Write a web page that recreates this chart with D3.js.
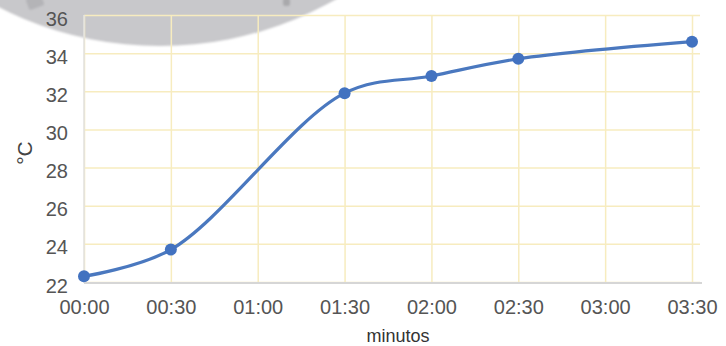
<!DOCTYPE html>
<html>
<head>
<meta charset="utf-8">
<script src="https://cdn.jsdelivr.net/npm/d3@7"></script>
<style>
  html, body { margin: 0; padding: 0; background: #ffffff; }
  svg { display: block; }
  text { font-family: "Liberation Sans", Arial, sans-serif; }
</style>
</head>
<body>
<svg id="chart" width="726" height="346"></svg>
<script>
// Elapsed time of each reading, in minutes
const sampleMinutes = [0, 30, 90, 120, 150, 210];
// Temperature readings (°C)
const temperatures = [22.3, 23.7, 31.9, 32.8, 33.7, 34.6];
// Axis ticks
const xTickMinutes = [0, 30, 60, 90, 120, 150, 180, 210];
const xTickLabels = ["00:00", "00:30", "01:00", "01:30", "02:00", "02:30", "03:00", "03:30"];
const yTicks = [22, 24, 26, 28, 30, 32, 34, 36];

const svg = d3.select("#chart");
const plotLeft = 84, plotRight = 692, plotTop = 15, plotBottom = 282;

const x = d3.scaleLinear().domain([0, 210]).range([plotLeft, plotRight]);
const y = d3.scaleLinear().domain([22, 36]).range([plotBottom, plotTop]);

// Grey disc partly covering the top of the chart
const defs = svg.append("defs");
defs.append("filter").attr("id", "soft")
  .attr("x", "-10%").attr("y", "-10%").attr("width", "120%").attr("height", "120%")
  .append("feGaussianBlur").attr("stdDeviation", 1.2);
const cover = svg.append("g").attr("filter", "url(#soft)");
cover.append("circle").attr("cx", 160).attr("cy", -309).attr("r", 355).attr("fill", "#c8c8cb");
cover.append("rect").attr("x", 27).attr("y", -4).attr("width", 16).attr("height", 12)
  .attr("rx", 2).attr("fill", "#b4b4b7").attr("transform", "rotate(-20 35 2)");
cover.append("rect").attr("x", 283).attr("y", -2).attr("width", 7).attr("height", 8)
  .attr("rx", 2).attr("fill", "#a9a9ac");

// Gridlines
const grid = svg.append("g");
grid.append("g")
  .attr("transform", `translate(0,${plotTop})`)
  .call(d3.axisBottom(x).tickValues(xTickMinutes).tickSize(plotBottom - plotTop).tickFormat(""))
  .call(g => g.select(".domain").remove())
  .call(g => g.selectAll("line").attr("stroke", "#f7ecbf").attr("stroke-width", 1.5));
grid.append("g")
  .attr("transform", `translate(${plotLeft},0)`)
  .call(d3.axisRight(y).tickValues(yTicks).tickSize(700 - plotLeft).tickFormat(""))
  .call(g => g.select(".domain").remove())
  .call(g => g.selectAll("line").attr("stroke", "#f7ecbf").attr("stroke-width", 1.5));

// Axis lines
svg.append("line").attr("x1", plotLeft).attr("x2", 702).attr("y1", plotBottom + 1).attr("y2", plotBottom + 1)
  .attr("stroke", "#d6d6d6").attr("stroke-width", 2);
svg.append("line").attr("x1", plotLeft).attr("x2", plotLeft).attr("y1", plotTop).attr("y2", plotBottom + 1)
  .attr("stroke", "#e2e2e2").attr("stroke-width", 1.5);

// Tick labels
const xAxis = svg.append("g")
  .attr("transform", `translate(0,${plotBottom})`)
  .call(d3.axisBottom(x).tickValues(xTickMinutes).tickSize(0).tickPadding(0)
    .tickFormat((d, i) => xTickLabels[i]));
xAxis.select(".domain").remove();
xAxis.selectAll("text")
  .attr("y", 32).attr("dy", null)
  .attr("font-size", 20).attr("fill", "#555555")
  .attr("font-family", "Liberation Sans, Arial, sans-serif");

const yAxis = svg.append("g")
  .attr("transform", `translate(68,0)`)
  .call(d3.axisLeft(y).tickValues(yTicks).tickSize(0).tickPadding(0));
yAxis.select(".domain").remove();
yAxis.selectAll("text")
  .attr("x", 0).attr("dy", 10)
  .attr("font-size", 20).attr("fill", "#555555")
  .attr("font-family", "Liberation Sans, Arial, sans-serif");

// Axis titles
svg.append("text")
  .attr("transform", "translate(32,153) rotate(-90)")
  .attr("text-anchor", "middle")
  .attr("font-size", 21).attr("fill", "#444444")
  .text("°C");
svg.append("text")
  .attr("x", 398).attr("y", 342)
  .attr("text-anchor", "middle")
  .attr("font-size", 18).attr("fill", "#333333")
  .text("minutos");

// Temperature curve
const readings = sampleMinutes.map((m, i) => ({ m, t: temperatures[i] }));
const line = d3.line()
  .x(d => x(d.m))
  .y(d => y(d.t))
  .curve(d3.curveCatmullRom.alpha(0.5));
svg.append("path")
  .datum(readings)
  .attr("d", line)
  .attr("fill", "none")
  .attr("stroke", "#4a78bf")
  .attr("stroke-width", 3.2)
  .attr("stroke-linecap", "round");
svg.append("g")
  .selectAll("circle")
  .data(readings)
  .join("circle")
  .attr("cx", d => x(d.m))
  .attr("cy", d => y(d.t))
  .attr("r", 6)
  .attr("fill", "#4272c0");
</script>
</body>
</html>
